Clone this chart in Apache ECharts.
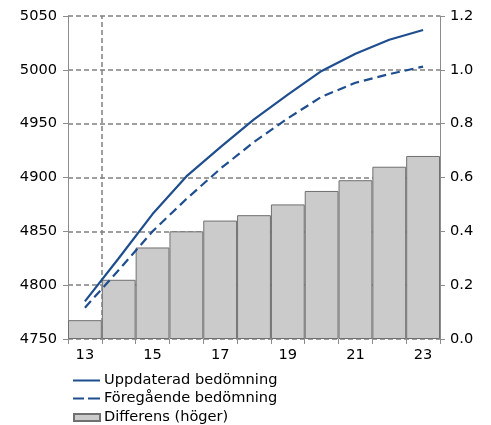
<!DOCTYPE html>
<html>
<head>
<meta charset="utf-8">
<script src="https://cdn.jsdelivr.net/npm/echarts@6/dist/echarts.min.js"></script>
<style>html,body{margin:0;padding:0;background:#fff}#c{width:491px;height:425px}</style>
</head>
<body>
<div id="c"></div>
<script>
const categories = ['13','14','15','16','17','18','19','20','21','22','23'];
const uppdaterad = [4785, 4825, 4866, 4901, 4928, 4954, 4977, 4999, 5015, 5028, 5037];
const foregaende = [4779, 4814, 4850, 4880, 4908, 4933, 4955, 4975, 4988, 4996, 5003];
const differens = [0.07, 0.22, 0.34, 0.40, 0.44, 0.46, 0.50, 0.55, 0.59, 0.64, 0.68];
const names = ['Uppdaterad bedömning', 'Föregående bedömning', 'Differens (höger)'];
const markerPosition = 13.5; // dashed vertical line between 13 and 14

const FONT = 'DejaVu Sans';
const FS = 14.6;
const gridGray = '#808080';
const axisGray = '#8c8c8c';
const blue = '#1f4e8f';

function legendFor(name, top, icon, w, h) {
  return {
    orient: 'vertical', left: 73, top: top, padding: 0,
    itemWidth: w, itemHeight: h, icon: icon,
    textStyle: { fontFamily: FONT, fontSize: FS, color: '#000', padding: [0, 0, 0, -1] },
    data: [name]
  };
}

const chart = echarts.init(document.getElementById('c'));
chart.setOption({
  animation: false,
  textStyle: { fontFamily: FONT },
  grid: { left: 68, right: 51, top: 16, bottom: 86, containLabel: false },
  legend: [
    legendFor(names[0], 373, 'path://M0,0h27v2h-27z', 27, 2.2),
    legendFor(names[1], 391, 'path://M0,0h11v2h-11z M15,0h12v2h-12z', 27, 2.2),
    legendFor(names[2], 410, 'rect', 26, 7)
  ],
  xAxis: [
    {
      type: 'category', data: categories, boundaryGap: true,
      axisLine: { show: false },
      axisTick: { show: true, interval: 0, length: 5, lineStyle: { color: axisGray } },
      axisLabel: { interval: 1, margin: 9, fontFamily: FONT, fontSize: FS, color: '#000' },
      splitLine: { show: false }
    },
    {
      type: 'value', min: 12.5, max: 23.5, show: false
    }
  ],
  yAxis: [
    {
      type: 'value', min: 4750, max: 5050, interval: 50, position: 'left',
      axisLine: { show: true, lineStyle: { color: axisGray } },
      axisTick: { show: true, length: 5, lineStyle: { color: axisGray } },
      axisLabel: { margin: 11, fontFamily: FONT, fontSize: FS, color: '#000',
        formatter: function (v) { return String(v); } },
      splitLine: { show: true, lineStyle: { color: gridGray, width: 1.5, type: [5, 3] } }
    },
    {
      type: 'value', min: 0, max: 1.2, interval: 0.2, position: 'right',
      axisLine: { show: true, lineStyle: { color: axisGray } },
      axisTick: { show: true, length: 5, lineStyle: { color: axisGray } },
      axisLabel: { margin: 10, fontFamily: FONT, fontSize: FS, color: '#000',
        formatter: function (v) { return v.toFixed(1); } },
      splitLine: { show: false }
    }
  ],
  series: [
    {
      name: names[0], type: 'line', yAxisIndex: 0, data: uppdaterad,
      symbol: 'none', z: 5,
      lineStyle: { color: blue, width: 2.2, type: 'solid' },
      itemStyle: { color: blue }
    },
    {
      name: names[1], type: 'line', yAxisIndex: 0, data: foregaende,
      symbol: 'none', z: 5,
      lineStyle: { color: blue, width: 2.2, type: [9, 5] },
      itemStyle: { color: blue }
    },
    {
      name: names[2], type: 'bar', yAxisIndex: 1, data: differens,
      barCategoryGap: 0, z: 2,
      itemStyle: { color: '#cbcbcb', borderColor: '#707070', borderWidth: 1 }
    },
    {
      name: 'marker', type: 'line', xAxisIndex: 1, yAxisIndex: 0, data: [],
      z: 1, silent: true,
      markLine: {
        symbol: 'none', silent: true, animation: false,
        label: { show: false },
        lineStyle: { color: gridGray, width: 1.5, type: [5, 3] },
        data: [{ xAxis: markerPosition }]
      }
    }
  ]
});
</script>
</body>
</html>
